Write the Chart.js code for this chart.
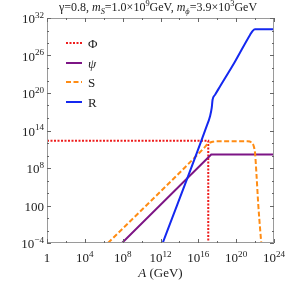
<!DOCTYPE html>
<html>
<head>
<meta charset="utf-8">
<script src="https://cdn.jsdelivr.net/npm/chart.js@4.4.0/dist/chart.umd.min.js"></script>
<style>
  html, body { margin: 0; padding: 0; background: #fff; }
  #wrap { width: 285px; height: 283px; }
</style>
</head>
<body>
<div id="wrap"><canvas id="chart" width="285" height="283"></canvas></div>
<script>
// tick positions and labels ("^" marks a superscript)
var xTicks = [1, 1e4, 1e8, 1e12, 1e16, 1e20, 1e24];
var xTickLabels = ["1", "10^4", "10^8", "10^12", "10^16", "10^20", "10^24"];
var yTicks = [1e-4, 1e2, 1e8, 1e14, 1e20, 1e26, 1e32];
var yTickLabels = ["10^\u22124", "100", "10^8", "10^14", "10^20", "10^26", "10^32"];

// Phi (red dotted)
var phiA = [1, 1.12e17, 1.12e17];
var phiV = [2.2e12, 2.2e12, 1e-4];

// psi (purple)
var psiA = [8.5e7, 2.3e17, 1e24];
var psiV = [1e-4, 1.4e10, 1.4e10];

// S (orange dashed)
var sA = [2.8e6, 4.0e16, 1.0e17, 3.2e17, 1.0e18, 1.6e21, 4.0e21, 7.1e21, 1.0e22, 1.4e22, 2.2e22, 3.5e22, 4.5e22];
var sV = [1e-4, 1.6e11, 7.1e11, 1.6e12, 1.9e12, 1.9e12, 1.26e12, 3.2e11, 2.0e10, 1e7, 100, 1e-2, 1e-4];

// R (blue)
var rA = [1.7e12, 6.5e16, 1.7e17, 2.6e17, 3.2e17, 5.8e17, 1.95e18, 7.4e19, 2.9e21, 5.6e21, 9.8e21, 1e24];
var rV = [1e-4, 2.6e14, 1.8e16, 4.0e17, 8.3e18, 5.0e19, 1.1e21, 1e25, 1.95e29, 8.9e29, 1.6e30, 1.6e30];

function pts(a, v) {
    var out = [];
    for (var i = 0; i < a.length; i++) out.push({ x: a[i], y: v[i] });
    return out;
}

var SERIF = '"Liberation Serif", "DejaVu Serif", serif';

// draw a run of text pieces: {t, it, sup, sub}
function pieceFont(p, size) {
    var s = (p.sup || p.sub) ? size * 0.7 : size;
    return (p.it ? "italic " : "") + s + "px " + SERIF;
}
function runWidth(ctx, pieces, size) {
    var w = 0;
    pieces.forEach(function (p) {
        ctx.font = pieceFont(p, size);
        w += ctx.measureText(p.t).width;
    });
    return w;
}
function drawRun(ctx, pieces, x, y, size) {
    ctx.textAlign = "left";
    ctx.textBaseline = "alphabetic";
    pieces.forEach(function (p) {
        ctx.font = pieceFont(p, size);
        var dy = p.sup ? -size * 0.42 : (p.sub ? size * 0.25 : 0);
        ctx.fillText(p.t, x, y + dy);
        x += ctx.measureText(p.t).width;
    });
}
function tickPieces(label) {
    var k = label.indexOf("^");
    if (k < 0) return [{ t: label }];
    return [{ t: label.slice(0, k) }, { t: label.slice(k + 1), sup: true }];
}

var framePlugin = {
    id: "frame",
    afterDraw: function (chart) {
        var ctx = chart.ctx;
        var a = chart.chartArea;
        var xs = chart.scales.x, ys = chart.scales.y;
        ctx.save();

        // frame
        ctx.strokeStyle = "#9a9a9a";
        ctx.lineWidth = 1;
        ctx.strokeRect(a.left + 0.5, a.top + 0.5, a.right - a.left - 1, a.bottom - a.top - 1);

        // inward ticks, major + minor
        ctx.strokeStyle = "#666";
        ctx.beginPath();
        for (var e = 0; e <= 24; e += 2) {
            var px = Math.round(xs.getPixelForValue(Math.pow(10, e))) + 0.5;
            var len = (e % 4 === 0) ? 4 : 2;
            ctx.moveTo(px, a.bottom); ctx.lineTo(px, a.bottom - len);
            ctx.moveTo(px, a.top); ctx.lineTo(px, a.top + len);
        }
        for (var f = -4; f <= 32; f += 2) {
            var py = Math.round(ys.getPixelForValue(Math.pow(10, f))) + 0.5;
            var ln = ((f + 4) % 6 === 0) ? 4 : 2;
            ctx.moveTo(a.left, py); ctx.lineTo(a.left + ln, py);
            ctx.moveTo(a.right, py); ctx.lineTo(a.right - ln, py);
        }
        ctx.stroke();

        ctx.fillStyle = "#222";
        var size = 13;
        // x tick labels
        xTicks.forEach(function (v, i) {
            var pcs = tickPieces(xTickLabels[i]);
            var w = runWidth(ctx, pcs, size);
            var px = xs.getPixelForValue(v);
            var shift = pcs.length > 1 ? 0 : 0;
            drawRun(ctx, pcs, px - w / 2 + shift, a.bottom + 19, size);
        });
        // y tick labels
        yTicks.forEach(function (v, i) {
            var pcs = tickPieces(yTickLabels[i]);
            var w = runWidth(ctx, pcs, size);
            var py = ys.getPixelForValue(v);
            drawRun(ctx, pcs, a.left - 3 - w, py + 5, size);
        });

        // axis title
        var xt = [{ t: "A", it: true }, { t: " (GeV)" }];
        var xw = runWidth(ctx, xt, 13);
        drawRun(ctx, xt, (a.left + a.right) / 2 - xw / 2, 277, 13);

        // plot title
        var tt = [
            { t: "\u03b3=0.8, " }, { t: "m", it: true }, { t: "S", it: true, sub: true },
            { t: "=1.0\u00d710" }, { t: "9", sup: true }, { t: "GeV, " },
            { t: "m", it: true }, { t: "\u03d5", it: true, sub: true },
            { t: "=3.9\u00d710" }, { t: "3", sup: true }, { t: "GeV" }
        ];
        var tw = runWidth(ctx, tt, 12);
        drawRun(ctx, tt, 158 - tw / 2, 11, 12);

        // legend
        var names = [[{ t: "\u03a6" }], [{ t: "\u03c8", it: true }], [{ t: "S" }], [{ t: "R" }]];
        var ly = [43, 63, 82, 102];
        chart.data.datasets.forEach(function (ds, i) {
            ctx.strokeStyle = ds.borderColor;
            ctx.lineWidth = ds.borderWidth;
            ctx.setLineDash(ds.borderDash || []);
            ctx.beginPath();
            ctx.moveTo(66, ly[i]);
            ctx.lineTo(82, ly[i]);
            ctx.stroke();
            ctx.setLineDash([]);
            ctx.fillStyle = "#222";
            drawRun(ctx, names[i], 88, ly[i] + 5, 13);
        });
        ctx.restore();
    }
};

new Chart(document.getElementById("chart"), {
    type: "line",
    data: {
        datasets: [
            {
                label: "\u03a6",
                data: pts(phiA, phiV),
                borderColor: "#ee1c1c",
                borderWidth: 2,
                borderDash: [2, 1.5],
                tension: 0,
                order: 3
            },
            {
                label: "\u03c8",
                data: pts(psiA, psiV),
                borderColor: "#7d1585",
                borderWidth: 2,
                tension: 0,
                order: 2
            },
            {
                label: "S",
                data: pts(sA, sV),
                borderColor: "#ff8c14",
                borderWidth: 2,
                borderDash: [5, 2.5],
                cubicInterpolationMode: "monotone",
                order: 1
            },
            {
                label: "R",
                data: pts(rA, rV),
                borderColor: "#1428f0",
                borderWidth: 2,
                cubicInterpolationMode: "monotone",
                order: 0
            }
        ]
    },
    options: {
        responsive: false,
        devicePixelRatio: 1,
        animation: false,
        layout: { padding: { left: 47, right: 11, top: 18, bottom: 40 } },
        elements: { point: { radius: 0 } },
        scales: {
            x: { type: "logarithmic", min: 1, max: 1e24, display: false },
            y: { type: "logarithmic", min: 1e-4, max: 1e32, display: false }
        },
        plugins: {
            legend: { display: false },
            tooltip: { enabled: false }
        }
    },
    plugins: [framePlugin]
});
</script>
</body>
</html>
